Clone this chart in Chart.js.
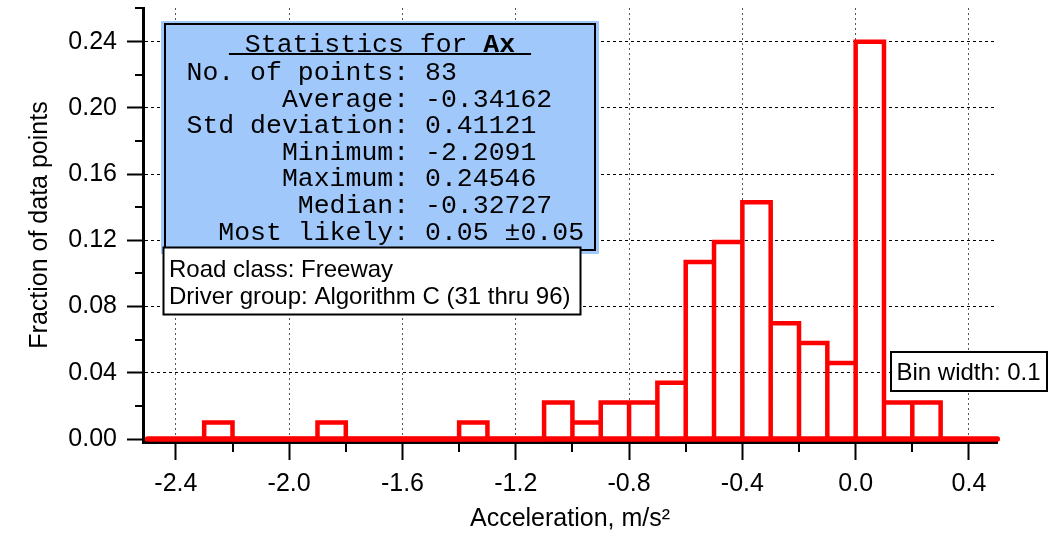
<!DOCTYPE html>
<html>
<head>
<meta charset="utf-8">
<script src="https://cdn.jsdelivr.net/npm/chart.js@4.4.1/dist/chart.umd.min.js"></script>
<style>
    body { margin: 0; background: #fff; }
    #wrap { width: 1049px; height: 535px; position: relative; }
</style>
</head>
<body>
<div id="wrap"><canvas id="histChart"></canvas></div>
<script>
// bin left edges (width 0.1) and fraction of points in each bin
const binLeft = [-2.5, -2.4, -2.3, -2.2, -2.1, -2.0, -1.9, -1.8, -1.7, -1.6,
    -1.5, -1.4, -1.3, -1.2, -1.1, -1.0, -0.9, -0.8, -0.7, -0.6,
    -0.5, -0.4, -0.3, -0.2, -0.1, 0.0, 0.1, 0.2, 0.3, 0.4];
const fraction = [0, 0, 0.010, 0, 0, 0, 0.010, 0, 0, 0,
    0, 0.010, 0, 0, 0.022, 0.010, 0.022, 0.022, 0.034, 0.107,
    0.119, 0.143, 0.070, 0.058, 0.046, 0.240, 0.022, 0.022, 0, 0];
const binWidth = 0.1;

const xTicks = [-2.4, -2.0, -1.6, -1.2, -0.8, -0.4, 0.0, 0.4];
const xMinorTicks = [-2.2, -1.8, -1.4, -1.0, -0.6, -0.2, 0.2];
const yTicks = [0.00, 0.04, 0.08, 0.12, 0.16, 0.20, 0.24];
const yMinorTicks = [0.02, 0.06, 0.10, 0.14, 0.18, 0.22];

const statTitle = "Ax";
const statLabels = ["No. of points", "Average", "Std deviation", "Minimum", "Maximum", "Median", "Most likely"];
const statValues = ["83", "-0.34162", "0.41121", "-2.2091", "0.24546", "-0.32727", "0.05 \u00b10.05"];
const infoLines = ["Road class: Freeway", "Driver group: Algorithm C (31 thru 96)"];
const binNote = "Bin width: 0.1";

// outline of every non-empty bin: up, across, down
const outline = [];
binLeft.forEach((a, i) => {
    const h = fraction[i];
    if (!h) return;
    const b = a + binWidth;
    const last = outline[outline.length - 1];
    if (!last || Math.abs(last.x - a) > 1e-9 || last.y !== 0) outline.push({ x: a, y: 0 });
    outline.push({ x: a, y: h });
    outline.push({ x: b, y: h });
    outline.push({ x: b, y: 0 });
});
const baseline = [
    { x: binLeft[0], y: 0 },
    { x: binLeft[binLeft.length - 1] + binWidth, y: 0 }
];

const boxes = {
    id: "boxes",
    afterDraw(chart) {
        const ctx = chart.ctx;
        const xs = chart.scales.x;
        const ys = chart.scales.y;
        ctx.save();

        // minor ticks, plus the little cap at the top of the y axis
        ctx.strokeStyle = "#000";
        ctx.lineWidth = 2;
        ctx.beginPath();
        xMinorTicks.forEach((v) => {
            const px = Math.round(xs.getPixelForValue(v));
            ctx.moveTo(px, xs.top);
            ctx.lineTo(px, xs.top + 10);
        });
        yMinorTicks.forEach((v) => {
            const py = Math.round(ys.getPixelForValue(v));
            ctx.moveTo(ys.right - 8, py);
            ctx.lineTo(ys.right, py);
        });
        ctx.moveTo(ys.right - 8, ys.top);
        ctx.lineTo(ys.right, ys.top);
        ctx.stroke();

        // statistics box
        ctx.fillStyle = "#a0c8fa";
        ctx.fillRect(161, 21, 438, 233);
        ctx.lineWidth = 2;
        ctx.strokeRect(165, 24, 430, 226);

        ctx.fillStyle = "#000";
        ctx.textBaseline = "alphabetic";
        const mono = "26.5px 'Liberation Mono', 'Courier New', monospace";
        const monoBold = "bold 26.5px 'Liberation Mono', 'Courier New', monospace";
        ctx.font = mono;
        const head = " Statistics for ";
        const wHead = ctx.measureText(head).width;
        ctx.font = monoBold;
        const wTitle = ctx.measureText(statTitle + " ").width;
        const startX = 380 - (wHead + wTitle) / 2;
        ctx.font = mono;
        ctx.textAlign = "left";
        ctx.fillText(head, startX, 51.5);
        ctx.font = monoBold;
        ctx.fillText(statTitle, startX + wHead, 51.5);
        ctx.fillRect(startX, 53, wHead + wTitle, 2);

        ctx.font = mono;
        const charW = ctx.measureText("0").width;
        const colonEnd = 186.5 + 14 * charW;
        statLabels.forEach((lab, i) => {
            const yy = 80 + i * 26.6;
            ctx.textAlign = "right";
            ctx.fillText(lab + ":", colonEnd, yy);
            ctx.textAlign = "left";
            ctx.fillText(statValues[i], colonEnd + charW, yy);
        });

        // road class box
        ctx.fillStyle = "#fff";
        ctx.fillRect(163.5, 247.5, 417, 67);
        ctx.strokeRect(163.5, 247.5, 417, 67);
        ctx.fillStyle = "#000";
        ctx.font = "24px 'Liberation Sans', Arial, sans-serif";
        ctx.textAlign = "left";
        infoLines.forEach((t, i) => ctx.fillText(t, 169, 276.5 + i * 27.5));

        // bin width box
        ctx.fillStyle = "#fff";
        ctx.fillRect(891, 352, 156, 39);
        ctx.strokeRect(891, 352, 156, 39);
        ctx.fillStyle = "#000";
        ctx.fillText(binNote, 896.5, 380);

        ctx.restore();
    }
};

Chart.defaults.font.family = "'Liberation Sans', Arial, sans-serif";
Chart.defaults.color = "#000";

const ctx = document.getElementById("histChart").getContext("2d");
new Chart(ctx, {
    type: "line",
    data: {
        datasets: [
            {
                label: "Fraction",
                data: outline,
                borderColor: "#ff0000",
                borderWidth: 4.5,
                borderJoinStyle: "miter",
                pointRadius: 0,
                fill: false,
                tension: 0,
                clip: false
            },
            {
                label: "zero",
                data: baseline,
                borderColor: "#ff0000",
                borderWidth: 5.5,
                borderCapStyle: "round",
                pointRadius: 0,
                fill: false,
                clip: false
            }
        ]
    },
    options: {
        responsive: true,
        maintainAspectRatio: false,
        animation: false,
        events: [],
        layout: { padding: { left: 0, right: 52, top: 8, bottom: 0 } },
        plugins: {
            legend: { display: false },
            tooltip: { enabled: false }
        },
        scales: {
            x: {
                type: "linear",
                min: -2.516,
                max: 0.499,
                bounds: "data",
                afterBuildTicks: (s) => { s.ticks = xTicks.map((v) => ({ value: v })); },
                afterFit: (s) => {
                    s.height = 93;
                    s.paddingLeft = 0;
                    s.paddingRight = 0;
                },
                ticks: {
                    callback: (v) => v.toFixed(1),
                    font: { size: 25 },
                    color: "#000",
                    padding: 9,
                    maxRotation: 0,
                    autoSkip: false
                },
                grid: {
                    color: "#555",
                    lineWidth: 1,
                    tickLength: 18,
                    tickWidth: 2,
                    tickColor: "#000",
                    tickBorderDash: []
                },
                border: { color: "#000", width: 3, dash: [2, 3] },
                title: {
                    display: true,
                    text: "Acceleration, m/s\u00b2",
                    font: { size: 25 },
                    color: "#000",
                    padding: { top: 0, bottom: 1 }
                }
            },
            y: {
                type: "linear",
                min: -0.0018,
                max: 0.2604,
                bounds: "data",
                afterBuildTicks: (s) => { s.ticks = yTicks.map((v) => ({ value: v })); },
                afterFit: (s) => {
                    s.width = 143;
                    s.paddingTop = 0;
                    s.paddingBottom = 0;
                },
                ticks: {
                    callback: (v) => v.toFixed(2),
                    font: { size: 25 },
                    color: "#000",
                    padding: 10
                },
                grid: {
                    color: "#000",
                    lineWidth: 1,
                    tickLength: 16,
                    tickWidth: 2,
                    tickColor: "#000",
                    tickBorderDash: []
                },
                border: { color: "#000", width: 3, dash: [3, 3] },
                title: {
                    display: true,
                    text: "Fraction of data points",
                    font: { size: 25 },
                    color: "#000",
                    padding: { top: 25, bottom: 0 }
                }
            }
        }
    },
    plugins: [boxes]
});
</script>
</body>
</html>
